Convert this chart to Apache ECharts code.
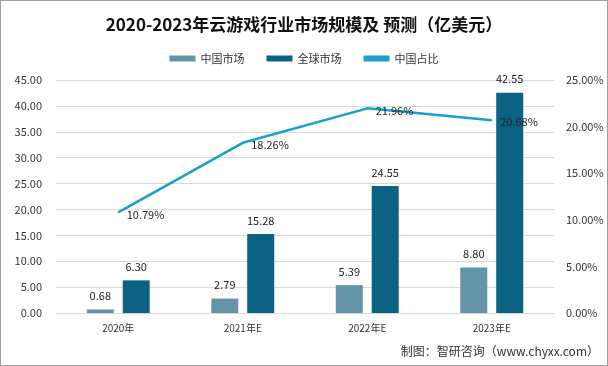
<!DOCTYPE html>
<html><head><meta charset="utf-8">
<script src="https://cdn.jsdelivr.net/npm/echarts@6/dist/echarts.min.js"></script>
<style>html,body{margin:0;padding:0;background:#fff}#c{width:608px;height:366px;box-sizing:border-box;border:1px solid #a0a0a0}</style>
</head><body><div id="c"></div>
<script>
const categories = ['2020年', '2021年E', '2022年E', '2023年E'];
const chinaMarket = [0.68, 2.79, 5.39, 8.80];
const globalMarket = [6.30, 15.28, 24.55, 42.55];
const chinaShare = [10.79, 18.26, 21.96, 20.68];

const chart = echarts.init(document.getElementById('c'));
const font = '"Microsoft YaHei","Noto Sans CJK SC",sans-serif';
chart.setOption({
  animation: false,
  textStyle: { fontFamily: font },
  title: {
    text: '2020-2023年云游戏行业市场规模及 预测（亿美元）',
    left: 'center', top: 10,
    textStyle: { fontSize: 17, fontWeight: 'bold', color: '#111', fontFamily: font }
  },
  legend: {
    top: 47, left: 'center', itemWidth: 26, itemHeight: 6, itemGap: 22,
    textStyle: { fontSize: 11, color: '#333' },
    data: [
      { name: '中国市场', icon: 'rect' },
      { name: '全球市场', icon: 'rect' },
      { name: '中国占比', icon: 'rect', itemStyle: { color: '#1a9fcf' } }
    ]
  },
  graphic: [{
    type: 'text', right: 8, top: 344,
    style: { text: '制图：智研咨询（www.chyxx.com）', fontSize: 12, fill: '#333', fontFamily: font }
  }],
  grid: { left: 55, right: 53, top: 79, bottom: 52 },
  xAxis: {
    type: 'category', data: categories,
    axisLine: { show: true, lineStyle: { color: '#d9d9d9' } },
    axisTick: { show: false },
    axisLabel: { color: '#333', fontSize: 10, margin: 10 }
  },
  yAxis: [
    {
      type: 'value', min: 0, max: 45, interval: 5,
      axisLabel: { formatter: v => v.toFixed(2), color: '#333', fontSize: 11, margin: 14 },
      splitLine: { lineStyle: { color: '#d9d9d9' } },
      axisLine: { show: false }, axisTick: { show: false }
    },
    {
      type: 'value', min: 0, max: 25, interval: 5,
      axisLabel: { formatter: v => v.toFixed(2) + '%', color: '#333', fontSize: 11, margin: 12 },
      splitLine: { show: false },
      axisLine: { show: false }, axisTick: { show: false }
    }
  ],
  series: [
    {
      name: '中国市场', type: 'bar', data: chinaMarket, barWidth: 27, barGap: '33%',
      itemStyle: { color: '#6593a8' },
      label: { show: true, position: 'top', distance: 8, formatter: p => p.value.toFixed(2), color: '#222', fontSize: 11 }
    },
    {
      name: '全球市场', type: 'bar', data: globalMarket, barWidth: 27,
      itemStyle: { color: '#0b6283' },
      label: { show: true, position: 'top', distance: 8, formatter: p => p.value.toFixed(2), color: '#222', fontSize: 11 }
    },
    {
      name: '中国占比', type: 'line', yAxisIndex: 1, data: chinaShare,
      symbol: 'circle', symbolSize: 1, showSymbol: true,
      lineStyle: { color: '#1a9fcf', width: 2.5 },
      itemStyle: { color: '#1a9fcf' },
      label: { show: true, position: 'right', distance: 8, formatter: p => p.value.toFixed(2) + '%', color: '#222', fontSize: 11, offset: [0, 2] }
    }
  ]
});
</script></body></html>
